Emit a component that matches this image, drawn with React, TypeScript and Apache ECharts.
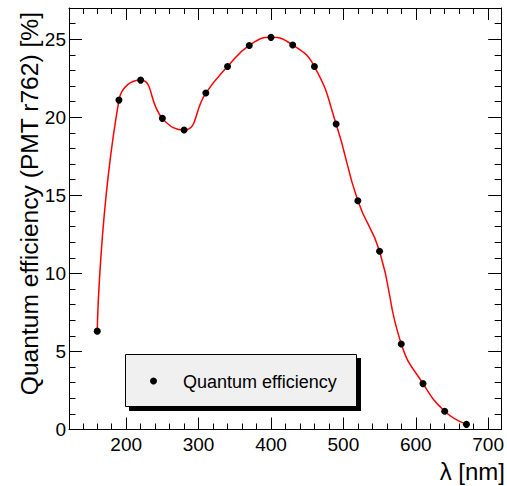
import { useEffect, useRef } from "react";
import * as echarts from "echarts";

const wavelengths = [160, 190, 220, 250, 280, 310, 340, 370, 400, 430, 460, 490, 520, 550, 580, 610, 640, 670];
const efficiency = [6.3, 21.1, 22.38, 19.93, 19.18, 21.55, 23.25, 24.6, 25.12, 24.63, 23.25, 19.57, 14.65, 11.42, 5.48, 2.94, 1.17, 0.33];
const seriesName = "Quantum efficiency";
const xTitle = "λ [nm]";
const yTitle = "Quantum efficiency (PMT r762) [%]";
const xMin = 121;
const xMax = 718;
const yMin = 0;
const yMax = 27;
const yInterval = 5;

const FONT = "'Liberation Sans', Arial, Helvetica, sans-serif";

function xAxis(position: string, showLabels: boolean) {
  return {
    type: "value",
    position,
    min: xMin,
    max: xMax,
    splitNumber: 5,
    axisLine: { show: true, onZero: false, lineStyle: { color: "#000", width: 1 } },
    axisTick: { show: true, inside: true, length: 12, lineStyle: { color: "#000", width: 1 } },
    minorTick: { show: true, splitNumber: 5, length: 6, lineStyle: { color: "#000", width: 1 } },
    splitLine: { show: false },
    minorSplitLine: { show: false },
    axisLabel: {
      show: showLabels,
      showMinLabel: false,
      showMaxLabel: false,
      margin: 5,
      fontSize: 19,
      color: "#000",
      fontFamily: FONT,
    },
  };
}

function yAxis(position: string, showLabels: boolean) {
  return {
    type: "value",
    position,
    min: yMin,
    max: yMax,
    interval: yInterval,
    axisLine: { show: true, onZero: false, lineStyle: { color: "#000", width: 1 } },
    axisTick: { show: true, inside: true, length: 13, lineStyle: { color: "#000", width: 1 } },
    minorTick: { show: true, splitNumber: 5, length: 6.5, lineStyle: { color: "#000", width: 1 } },
    splitLine: { show: false },
    minorSplitLine: { show: false },
    axisLabel: {
      show: showLabels,
      showMinLabel: true,
      showMaxLabel: false,
      margin: 3,
      fontSize: 19,
      color: "#000",
      fontFamily: FONT,
    },
  };
}

export default function App() {
  const ref = useRef<HTMLDivElement>(null);
  useEffect(() => {
    if (!ref.current) return;
    const chart = echarts.init(ref.current, null, { renderer: "svg" });
    const data = wavelengths.map((w, i) => [w, efficiency[i]]);
    chart.setOption({
      animation: false,
      backgroundColor: "#fff",
      grid: { left: 69, top: 8, width: 436, height: 421.5, containLabel: false },
      xAxis: [xAxis("bottom", true), xAxis("top", false)],
      yAxis: [yAxis("left", true), yAxis("right", false)],
      series: [
        {
          name: seriesName,
          type: "line",
          xAxisIndex: 0,
          yAxisIndex: 0,
          data,
          smooth: 0.5,
          symbol: "circle",
          symbolSize: 7,
          showAllSymbol: true,
          lineStyle: { color: "#ff0000", width: 1.5 },
          itemStyle: { color: "#000" },
          z: 3,
        },
      ],
      graphic: [
        {
          type: "rect",
          shape: { x: 129, y: 358, width: 232, height: 53 },
          style: { fill: "#000" },
          z: 10,
        },
        {
          type: "rect",
          shape: { x: 125.5, y: 354.5, width: 231, height: 52 },
          style: { fill: "#f0f0f0", stroke: "#000", lineWidth: 1 },
          z: 11,
        },
        {
          type: "circle",
          shape: { cx: 153.5, cy: 381, r: 3.5 },
          style: { fill: "#000" },
          z: 12,
        },
        {
          type: "text",
          x: 183,
          y: 381.5,
          style: {
            text: seriesName,
            font: `18px ${FONT}`,
            fill: "#000",
            textAlign: "left",
            textVerticalAlign: "middle",
          },
          z: 12,
        },
        {
          type: "text",
          x: 505,
          y: 471,
          style: {
            text: xTitle,
            font: `24px ${FONT}`,
            fill: "#000",
            textAlign: "right",
            textVerticalAlign: "middle",
          },
        },
        {
          type: "text",
          x: 29,
          y: 12,
          rotation: Math.PI / 2,
          style: {
            text: yTitle,
            font: `24.6px ${FONT}`,
            fill: "#000",
            textAlign: "right",
            textVerticalAlign: "middle",
          },
        },
      ],
    });
    return () => chart.dispose();
  }, []);
  return <div ref={ref} style={{ width: 507, height: 486, position: "absolute", left: 0, top: 0 }} />;
}
